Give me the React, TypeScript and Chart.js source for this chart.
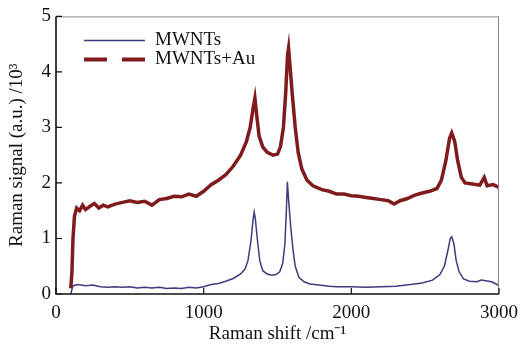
import React, { useEffect, useRef } from "react";
import { Chart, registerables } from "chart.js";

Chart.register(...registerables);

const mwntsX = [100, 115, 150, 200, 250, 300, 350, 400, 450, 500, 550, 600, 650, 700, 750, 800, 850, 900, 950, 1000, 1050, 1100, 1150, 1200, 1250, 1280, 1300, 1320, 1335, 1342, 1350, 1365, 1380, 1400, 1430, 1460, 1490, 1515, 1535, 1550, 1560, 1567, 1575, 1590, 1605, 1620, 1645, 1680, 1720, 1780, 1850, 1900, 2000, 2100, 2200, 2300, 2400, 2480, 2550, 2600, 2630, 2655, 2670, 2680, 2695, 2710, 2730, 2760, 2800, 2850, 2880, 2910, 2950, 2980, 3000];
const mwntsY = [0.0, 0.15, 0.17, 0.15, 0.16, 0.13, 0.12, 0.13, 0.12, 0.13, 0.11, 0.12, 0.11, 0.12, 0.10, 0.11, 0.10, 0.12, 0.11, 0.13, 0.17, 0.19, 0.23, 0.28, 0.36, 0.45, 0.6, 0.95, 1.35, 1.48, 1.35, 0.95, 0.6, 0.42, 0.36, 0.34, 0.35, 0.4, 0.55, 0.9, 1.5, 2.02, 1.7, 1.2, 0.8, 0.5, 0.3, 0.22, 0.18, 0.16, 0.14, 0.13, 0.13, 0.12, 0.13, 0.14, 0.17, 0.2, 0.25, 0.35, 0.5, 0.8, 1.0, 1.03, 0.9, 0.6, 0.4, 0.27, 0.23, 0.22, 0.25, 0.24, 0.22, 0.18, 0.15];

const auX = [100, 108, 115, 125, 140, 160, 180, 200, 230, 260, 290, 320, 350, 400, 450, 500, 550, 600, 650, 700, 750, 800, 850, 900, 950, 1000, 1050, 1100, 1150, 1200, 1250, 1290, 1315, 1335, 1347, 1360, 1375, 1400, 1430, 1470, 1500, 1520, 1540, 1555, 1568, 1575, 1585, 1600, 1620, 1640, 1665, 1700, 1740, 1800, 1850, 1900, 1950, 2000, 2050, 2100, 2150, 2200, 2250, 2290, 2330, 2380, 2430, 2480, 2530, 2580, 2610, 2640, 2665, 2680, 2700, 2720, 2745, 2770, 2820, 2870, 2900, 2920, 2960, 3000];
const auY = [0.1, 0.4, 1.0, 1.4, 1.55, 1.5, 1.6, 1.52, 1.58, 1.63, 1.55, 1.6, 1.57, 1.62, 1.65, 1.68, 1.65, 1.67, 1.6, 1.7, 1.72, 1.76, 1.75, 1.8, 1.76, 1.85, 1.97, 2.05, 2.15, 2.3, 2.5, 2.75, 3.0, 3.35, 3.53, 3.2, 2.85, 2.65, 2.55, 2.5, 2.52, 2.65, 3.0, 3.6, 4.3, 4.43, 4.1, 3.6, 3.0, 2.55, 2.25, 2.05, 1.95, 1.88, 1.85, 1.8, 1.8, 1.77, 1.76, 1.74, 1.72, 1.7, 1.68, 1.62, 1.68, 1.72, 1.78, 1.82, 1.85, 1.9, 2.05, 2.4, 2.8, 2.9, 2.75, 2.4, 2.1, 2.0, 1.98, 1.96, 2.1, 1.95, 1.97, 1.92];

const xTicks = [0, 1000, 2000, 3000];
const yTicks = [0, 1, 2, 3, 4, 5];
const seriesNames = ["MWNTs", "MWNTs+Au"];

const BLUE = "#3b3b7e";
const RED = "#7f1b1d";
const FONT = "'Liberation Serif', 'Times New Roman', serif";

const framePlugin = {
  id: "frame",
  afterDraw(chart: any) {
    const { ctx, chartArea: a, scales } = chart;
    const xs = scales.x;
    const ys = scales.y;
    ctx.save();
    ctx.strokeStyle = "#888888";
    ctx.lineWidth = 1;
    ctx.beginPath();
    ctx.moveTo(a.left, a.top + 0.5);
    ctx.lineTo(a.right, a.top + 0.5);
    ctx.moveTo(a.right - 0.5, a.top);
    ctx.lineTo(a.right - 0.5, a.bottom);
    ctx.stroke();
    ctx.strokeStyle = "#111111";
    ctx.lineWidth = 1.6;
    ctx.beginPath();
    ctx.moveTo(a.left, a.top);
    ctx.lineTo(a.left, a.bottom);
    ctx.lineTo(a.right, a.bottom);
    ctx.stroke();
    ctx.lineWidth = 1.2;
    ctx.beginPath();
    xTicks.forEach((v) => {
      const px = xs.getPixelForValue(v);
      ctx.moveTo(px, a.bottom);
      ctx.lineTo(px, a.bottom - 6);
    });
    yTicks.forEach((v) => {
      const py = ys.getPixelForValue(v);
      ctx.moveTo(a.left, py);
      ctx.lineTo(a.left + 6, py);
    });
    ctx.stroke();
    const lx0 = a.left + 28;
    const lx1 = a.left + 89;
    const y1 = a.top + 24;
    const y2 = a.top + 43;
    ctx.strokeStyle = BLUE;
    ctx.lineWidth = 1.5;
    ctx.setLineDash([]);
    ctx.beginPath();
    ctx.moveTo(lx0, y1);
    ctx.lineTo(lx1, y1);
    ctx.stroke();
    ctx.strokeStyle = RED;
    ctx.lineWidth = 4;
    ctx.setLineDash([23, 15]);
    ctx.beginPath();
    ctx.moveTo(lx0, y2);
    ctx.lineTo(lx1, y2);
    ctx.stroke();
    ctx.setLineDash([]);
    ctx.fillStyle = "#111111";
    ctx.font = `19px ${FONT}`;
    ctx.textBaseline = "middle";
    ctx.textAlign = "left";
    ctx.fillText(seriesNames[0], lx1 + 10, y1);
    ctx.fillText(seriesNames[1], lx1 + 10, y2);
    ctx.restore();
  },
};

export default function App() {
  const ref = useRef<HTMLCanvasElement>(null);
  useEffect(() => {
    if (!ref.current) return;
    const chart = new Chart(ref.current, {
      type: "line",
      data: {
        datasets: [
          {
            label: seriesNames[0],
            data: mwntsX.map((x, i) => ({ x, y: mwntsY[i] })),
            borderColor: BLUE,
            borderWidth: 1.5,
            pointRadius: 0,
            tension: 0,
          },
          {
            label: seriesNames[1],
            data: auX.map((x, i) => ({ x, y: auY[i] })),
            borderColor: RED,
            borderWidth: 3.5,
            pointRadius: 0,
            tension: 0,
          },
        ],
      },
      options: {
        animation: false,
        responsive: false,
        maintainAspectRatio: false,
        layout: { padding: { top: 16, right: 22, left: 0, bottom: 0 } },
        plugins: { legend: { display: false }, tooltip: { enabled: false } },
        scales: {
          x: {
            type: "linear",
            min: 0,
            max: 3000,
            afterBuildTicks: (s: any) => {
              s.ticks = xTicks.map((v) => ({ value: v }));
            },
            afterFit: (s: any) => {
              s.height = 51;
            },
            grid: { display: false, drawTicks: false },
            border: { display: false },
            ticks: {
              color: "#111",
              font: { family: FONT, size: 19 },
              padding: 8,
              maxRotation: 0,
              callback: (v: any) => String(v),
            },
            title: {
              display: true,
              text: "Raman shift /cm⁻¹",
              color: "#111",
              font: { family: FONT, size: 19 },
              padding: { top: -4, bottom: 0 },
            },
          },
          y: {
            type: "linear",
            min: 0,
            max: 5,
            afterBuildTicks: (s: any) => {
              s.ticks = yTicks.map((v) => ({ value: v }));
            },
            afterFit: (s: any) => {
              s.width = 56;
            },
            grid: { display: false, drawTicks: false },
            border: { display: false },
            ticks: {
              color: "#111",
              font: { family: FONT, size: 19 },
              padding: 5,
              callback: (v: any) => String(v),
            },
            title: {
              display: true,
              text: "Raman signal (a.u.) /10³",
              color: "#111",
              font: { family: FONT, size: 19 },
              padding: { top: 6, bottom: 0 },
            },
          },
        },
      },
      plugins: [framePlugin],
    });
    return () => chart.destroy();
  }, []);
  return (
    <div style={{ position: "fixed", left: 0, top: 0, width: 526, height: 345, background: "#fff" }}>
      <canvas ref={ref} width={526} height={345} />
    </div>
  );
}
